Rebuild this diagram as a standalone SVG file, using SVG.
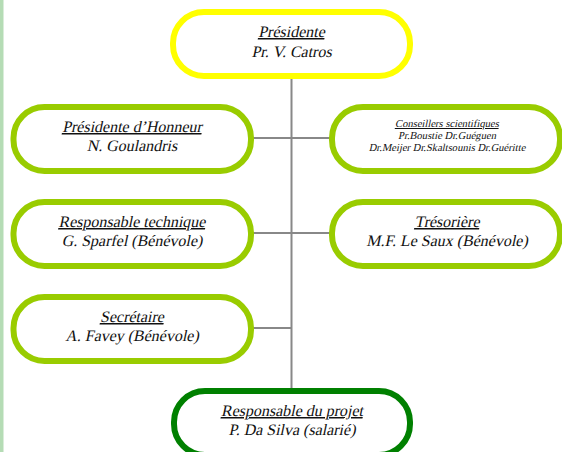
<svg xmlns="http://www.w3.org/2000/svg" width="562" height="452" viewBox="0 0 562 452">
<style>
.box{fill:#ffffff;stroke-width:6}
.yel{stroke:#ffff00}
.lime{stroke:#99cc00}
.dk{stroke:#008000}
.t{font-family:"Liberation Serif",serif;font-size:16px;fill:#111;text-anchor:middle}
.s{font-size:10.6px}
.u{text-decoration:underline}
.c{stroke:#888888;stroke-width:2;fill:none}
</style>
<rect x="0" y="0" width="562" height="452" fill="#ffffff"/>
<rect x="0" y="0" width="3.5" height="452" fill="#b5dcb5"/>
<g id="connectors">
<line class="c" x1="291.5" y1="76" x2="291.5" y2="391"/>
<line class="c" x1="251" y1="138" x2="332" y2="138"/>
<line class="c" x1="251" y1="233" x2="332" y2="233"/>
<line class="c" x1="251" y1="328" x2="291.5" y2="328"/>
</g>
<g id="presidente">
<rect class="box yel" x="173" y="12" width="237" height="64" rx="31"/>
<text class="t u" transform="translate(291.5 37) skewX(-12)">Présidente</text>
<text class="t" transform="translate(291.5 57) skewX(-12)">Pr. V. Catros</text>
</g>
<g id="honneur">
<rect class="box lime" x="13.5" y="107" width="237.5" height="64" rx="31"/>
<text class="t u" transform="translate(132 132) skewX(-12)">Présidente d’Honneur</text>
<text class="t" transform="translate(132 151) skewX(-12)">N. Goulandris</text>
</g>
<g id="conseillers">
<rect class="box lime" x="332" y="107" width="228" height="64" rx="31"/>
<text class="t s u" transform="translate(447 127) skewX(-12)">Conseillers scientifiques</text>
<text class="t s" transform="translate(447 139) skewX(-12)">Pr.Boustie Dr.Guéguen</text>
<text class="t s" transform="translate(447 151) skewX(-12)">Dr.Meijer Dr.Skaltsounis Dr.Guéritte</text>
</g>
<g id="technique">
<rect class="box lime" x="13.5" y="202" width="237.5" height="64" rx="31"/>
<text class="t u" transform="translate(132 227) skewX(-12)">Responsable technique</text>
<text class="t" transform="translate(132 246) skewX(-12)">G. Sparfel (Bénévole)</text>
</g>
<g id="tresoriere">
<rect class="box lime" x="332" y="202" width="228" height="64" rx="31"/>
<text class="t u" transform="translate(447 227) skewX(-12)">Trésorière</text>
<text class="t" transform="translate(447 246) skewX(-12)">M.F. Le Saux (Bénévole)</text>
</g>
<g id="secretaire">
<rect class="box lime" x="13.5" y="297" width="237.5" height="64" rx="31"/>
<text class="t u" transform="translate(132 322) skewX(-12)">Secrétaire</text>
<text class="t" transform="translate(132 341) skewX(-12)">A. Favey (Bénévole)</text>
</g>
<g id="projet">
<rect class="box dk" x="174" y="391" width="236" height="64" rx="31"/>
<text class="t u" transform="translate(292 416) skewX(-12)">Responsable du projet</text>
<text class="t" transform="translate(292 435) skewX(-12)">P. Da Silva (salarié)</text>
</g>
</svg>
